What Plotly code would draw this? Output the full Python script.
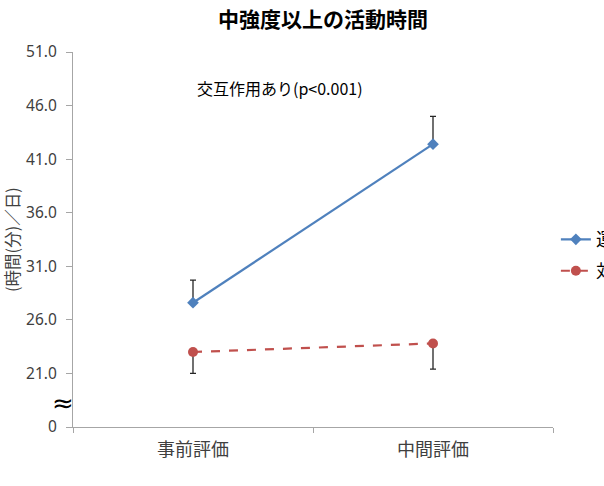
import plotly.graph_objects as go

categories = ["事前評価", "中間評価"]
exercise_vals = [27.6, 42.4]
exercise_err_up = [2.1, 2.6]
control_vals = [23.0, 23.8]
control_err_down = [2.0, 2.4]
series_names = ["運動群", "対照群"]
ytick_vals = [16, 21, 26, 31, 36, 41, 46, 51]
ytick_text = ["0", "21.0", "26.0", "31.0", "36.0", "41.0", "46.0", "51.0"]

FONT = "Noto Sans CJK JP"
NUMFONT = "Noto Sans"
TXT = "#404040"

fig = go.Figure()
fig.add_trace(go.Scatter(
    x=categories, y=exercise_vals, name=series_names[0], mode="lines+markers",
    line=dict(color="#4F81BD", width=2.2),
    marker=dict(symbol="diamond", size=9, color="#4F81BD"),
    error_y=dict(type="data", symmetric=False, array=exercise_err_up,
                 arrayminus=[0, 0], color="#262626", thickness=1.3, width=3),
    legendgroup="a",
))
fig.add_trace(go.Scatter(
    x=categories, y=control_vals, name=series_names[1], mode="lines+markers",
    line=dict(color="#C0504D", width=2.2, dash="dash"),
    marker=dict(symbol="circle", size=10, color="#C0504D"),
    error_y=dict(type="data", symmetric=False, array=[0, 0],
                 arrayminus=control_err_down, color="#262626", thickness=1.3, width=3),
    legendgroup="b",
))

fig.update_layout(
    width=604, height=486,
    margin=dict(l=73, r=51, t=52, b=59, autoexpand=False),
    plot_bgcolor="white", paper_bgcolor="white",
    font=dict(family=FONT, color=TXT, size=14),
    title=dict(text="<b>中強度以上の活動時間</b>", x=323 / 604, xanchor="center",
               y=1 - 20 / 486, yanchor="middle",
               font=dict(size=21, color="#000000", family=FONT)),
    showlegend=True,
    legend=dict(x=1.006, xanchor="left", y=0.549, yanchor="top",
                traceorder="grouped", tracegroupgap=5,
                font=dict(size=18, color="#000000", family=FONT),
                bgcolor="rgba(0,0,0,0)"),
    xaxis=dict(type="category", range=[-0.5, 1.5], showline=True, linecolor="#A6A6A6",
               linewidth=1.2, ticks="outside", ticklen=5, tickcolor="#A6A6A6",
               tickson="boundaries", showgrid=False, zeroline=False,
               ticklabelstandoff=6,
               tickfont=dict(size=18, color=TXT, family=FONT)),
    yaxis=dict(range=[16, 51], tickvals=ytick_vals, ticktext=ytick_text,
               showline=True, linecolor="#A6A6A6", linewidth=1.2, ticks="outside",
               ticklen=6, tickcolor="#A6A6A6", showgrid=False, zeroline=False,
               ticklabelstandoff=6,
               tickfont=dict(size=15.5, color=TXT, family=NUMFONT)),
)

fig.add_annotation(text="交互作用あり(p<0.001)", xref="paper", yref="y",
                   x=(280 - 73) / 480, y=16 + (427 - 88) / (375 / 35), showarrow=False,
                   xanchor="center", yanchor="middle",
                   font=dict(size=16, color="#000000", family=FONT))
fig.add_annotation(text="(時間(分)／日)", xref="paper", yref="paper",
                   x=(12 - 73) / 480, y=(427 - 240) / 375, textangle=-90, showarrow=False,
                   xanchor="center", yanchor="middle",
                   font=dict(size=16.5, color=TXT, family=FONT))
fig.add_annotation(text="≈", xref="paper", yref="y", x=(63 - 73) / 480, y=18.2,
                   xanchor="center", yanchor="middle",
                   showarrow=False, font=dict(size=26, color="#000000", family="DejaVu Sans"))

fig.write_html("out.html")
